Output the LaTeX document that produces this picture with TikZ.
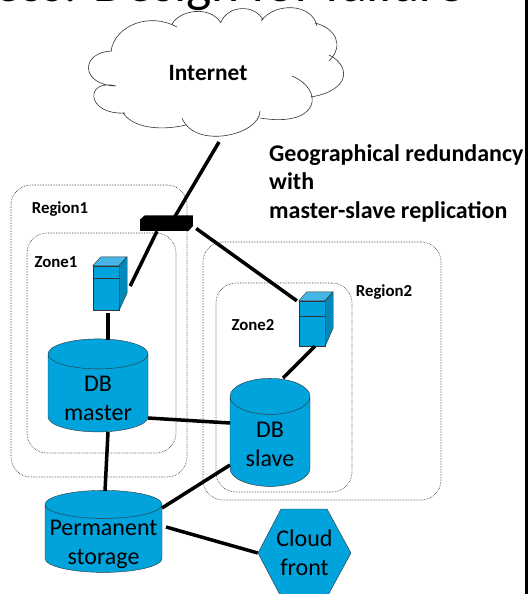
\documentclass[tikz,border=0pt]{standalone}
\usepackage{fontspec}
\setmainfont{Carlito}
\usetikzlibrary{shapes.geometric}
\definecolor{dbblue}{RGB}{0,163,219}
\definecolor{servertop}{RGB}{69,182,232}
\definecolor{serverside}{RGB}{0,136,184}
\newcommand{\dbtext}[2]{\makebox[40pt]{\raisebox{-#1pt}[5pt][5pt]{\begin{tabular}{@{}c@{}}#2\end{tabular}}}}
\tikzset{
  areabox/.style = {draw=black!85,densely dotted,line width=0.6pt,rounded corners=20pt,inner sep=0pt},
  arealabel/.style = {font=\bfseries\fontsize{16.8}{20}\selectfont,inner sep=0pt},
  db/.style = {cylinder,shape border rotate=90,draw=black!80,fill=dbblue,inner sep=0pt,
    font=\fontsize{24}{29}\selectfont},
  serverfront/.style = {draw=black!80,fill=dbblue,minimum width=26pt,inner sep=0pt},
  link/.style = {line width=3.5pt}
}
\begin{document}
\begin{tikzpicture}[x=1pt,y=-1pt]
\useasboundingbox (0,0) rectangle (528,594);
\node[font=\fontsize{53.5}{60}\selectfont,inner sep=0pt,anchor=base west] (title) at (-5.5,1.5) {ess: Design for failure};
\fill[black] (525,0) rectangle (528,594);

\node[areabox,minimum width=176pt,minimum height=292pt] (region1) at (99,331) {};
\node[areabox,minimum width=149pt,minimum height=220pt] (zone1) at (101.5,343) {};
\node[areabox,minimum width=238pt,minimum height=258pt] (region2) at (322,371) {};
\node[areabox,minimum width=136pt,minimum height=209pt] (zone2) at (284,387.5) {};
\node[arealabel] (lregion1) at (60,209) {Region1};
\node[arealabel] (lzone1) at (56,262) {Zone1};
\node[arealabel] (lregion2) at (384,292) {Region2};
\node[arealabel] (lzone2) at (253,325) {Zone2};

% cloud outline, puff by puff
\draw[black!80,line width=0.6pt] (111,51) .. controls (115,25) and (150,12) .. (177,27)
  (172,24) .. controls (180,10) and (210,5) .. (221,23)
  (221,22) .. controls (228,5) and (255,4) .. (263,20)
  (261,21) .. controls (275,2) and (312,3) .. (317,26)
  (315,23) .. controls (335,28) and (345,45) .. (329,61)
  (329,55) .. controls (350,65) and (352,90) .. (311,97)
  (292,76) .. controls (325,90) and (320,128) .. (260,118)
  (260,111) .. controls (260,135) and (195,150) .. (182,118)
  (186,125) .. controls (165,130) and (135,130) .. (123,113)
  (116,86) .. controls (85,78) and (85,115) .. (125,113)
  (112,51) .. controls (80,52) and (80,85) .. (116,86);
\node[font=\bfseries\fontsize{23.4}{28}\selectfont,inner sep=0pt] (internet) at (208,73) {Internet};
\coordinate (cloudfoot) at (219,142);
\node[anchor=west,align=left,inner sep=0pt,font=\bfseries\fontsize{24}{28.5}\selectfont] (caption) at (269,183)
  {Geographical redundancy\\with\\master-slave replication};

\node[fill=black,minimum width=48pt,minimum height=11pt,inner sep=0pt] (switch) at (164,225.5) {};
\node[serverfront,minimum height=44pt] (server1) at (106,288) {};
\node[serverfront,minimum height=45pt] (server2) at (312,323.5) {};
\node[db,minimum height=93pt,minimum width=100pt,aspect=0.75] (master) at (98,393) {\dbtext{13.5}{DB\\master}};
\node[db,minimum height=108pt,minimum width=80pt,aspect=0.9] (slave) at (270,441.5) {\dbtext{11}{DB\\slave}};
\node[db,minimum height=82pt,minimum width=117pt,aspect=0.7] (storage) at (103.5,538.5) {\dbtext{11.5}{Permanent\\storage}};

\draw[draw=black!80,fill=dbblue] (258,553) -- ++(23,-44) -- ++(46,0) -- ++(24,44) -- ++(-24,44) -- ++(-46,0) -- cycle;
\node[minimum width=93pt,minimum height=88pt,inner sep=0pt,align=center,font=\fontsize{24}{29}\selectfont] (front) at (304.5,553) {Cloud\\front};

\fill[black] (switch.north west) -- ++(5,-4.5) -- ++(48,0) -- ++(0,11) -- (switch.south east) -- cycle;

\foreach \s in {server1,server2} {
  \draw[black!80,fill=servertop] (\s.north west) -- ++(8,-9) -- ++(26,0) -- ++(-8,9) -- cycle;
  \draw[black!80,fill=serverside] (\s.north east) -- ++(8,-9) -- ++(0,36) -- (\s.south east) -- cycle;
}
\draw[black!80] ([yshift=-12pt]server1.north west) -- ([yshift=-12pt]server1.north east);
\draw[black!80] ([yshift=-15pt]server2.north west) -- ([yshift=-15pt]server2.north east);

\draw[link] (cloudfoot) -- ([xshift=9pt]switch.north);
\draw[link] ([xshift=-7pt]switch.south) -- ([xshift=11pt,yshift=2pt]server1.east);
\draw[link] ([xshift=8pt,yshift=-3pt]switch.east) -- ([xshift=-2pt]server2.north west);
\draw[link,shorten <=3pt] ([xshift=2pt]server1.south) -- ([xshift=10pt,yshift=53pt]master.center);
\draw[link] ([xshift=3pt]server2.south) -- ([xshift=13pt,yshift=63.5pt]slave.center);
\draw[link] ([xshift=50pt,yshift=-25pt]master.center) -- ([xshift=-40pt,yshift=18.5pt]slave.center);
\draw[link] ([xshift=10pt,yshift=-39pt]master.center) -- ([xshift=1.5pt,yshift=47.5pt]storage.center);
\draw[link] ([xshift=-40pt,yshift=-23.5pt]slave.center) -- ([xshift=58.5pt,yshift=30.5pt]storage.center);
\draw[link] ([xshift=62.5pt,yshift=11.5pt]storage.center) -- (front.west);
\end{tikzpicture}
\end{document}
